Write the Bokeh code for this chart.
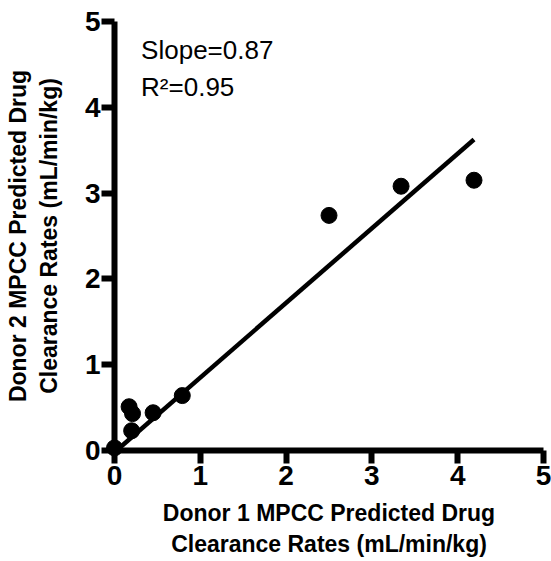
from bokeh.plotting import figure
from bokeh.models import Range1d, Label, FixedTicker
from bokeh.embed import file_html
from bokeh.resources import INLINE

# Data
donor1 = [0.00, 0.17, 0.21, 0.20, 0.45, 0.79, 2.50, 3.34, 4.19]
donor2 = [0.03, 0.51, 0.43, 0.23, 0.44, 0.64, 2.74, 3.08, 3.15]
fit_slope = 0.87
fit_intercept = -0.02
r_squared = 0.95
ticks = [0, 1, 2, 3, 4, 5]
x_title = "Donor 1 MPCC Predicted Drug\nClearance Rates (mL/min/kg)"
y_title = "Donor 2 MPCC Predicted Drug\nClearance Rates (mL/min/kg)"

FONT = "Liberation Sans"

p = figure(width=551, height=561, output_backend="svg", toolbar_location=None,
           x_range=Range1d(0, 5), y_range=Range1d(0, 5),
           min_border_left=114, min_border_right=8, min_border_top=21, min_border_bottom=111)
p.outline_line_color = None
p.grid.visible = False
p.background_fill_color = "white"
p.border_fill_color = "white"

for ax in (p.xaxis[0], p.yaxis[0]):
    ax.ticker = FixedTicker(ticks=ticks)
    ax.axis_line_width = 6
    ax.axis_line_color = "black"
    ax.major_tick_line_width = 6
    ax.major_tick_line_color = "black"
    ax.major_tick_out = 13
    ax.major_tick_in = 0
    ax.minor_tick_line_color = None
    ax.major_label_text_font = FONT
    ax.major_label_text_font_style = "bold"
    ax.major_label_text_font_size = "28px"
    ax.major_label_text_color = "black"
    ax.axis_label_text_font = FONT
    ax.axis_label_text_font_style = "bold"
    ax.axis_label_text_font_size = "23px"
    ax.axis_label_text_color = "black"
    ax.axis_label_text_line_height = 1.2

p.xaxis[0].major_label_standoff = 2
p.yaxis[0].major_label_standoff = 1

p.xaxis[0].axis_label = x_title
p.xaxis[0].axis_label_standoff = 12
p.yaxis[0].axis_label = y_title
p.yaxis[0].axis_label_standoff = 20

# regression line
x_fit = [0.0, max(donor1)]
y_fit = [fit_slope * v + fit_intercept for v in x_fit]
p.line(x_fit, y_fit, line_width=4.5, line_color="black", level="overlay")

p.scatter(donor1, donor2, size=16, fill_color="black", line_color="black", level="overlay")

p.add_layout(Label(x=0.31, y=4.67, text=f"Slope={fit_slope:.2f}", text_font=FONT,
                   text_font_size="26px", text_color="black", text_baseline="alphabetic"))
p.add_layout(Label(x=0.31, y=4.24, text=f"R\u00b2={r_squared:.2f}", text_font=FONT,
                   text_font_size="26px", text_color="black", text_baseline="alphabetic"))

open("out.html", "w").write(file_html(p, INLINE))
